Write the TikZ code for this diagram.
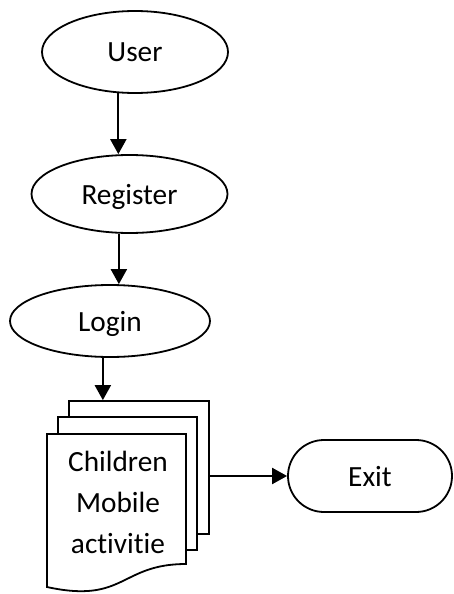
\documentclass[tikz,border=0pt]{standalone}
\usepackage{fontspec}
\setmainfont{Carlito}[Ligatures=CommonOff]
\usetikzlibrary{arrows.meta,shapes.geometric}

\tikzset{
  outline/.style={draw, line width=1.8pt, fill=white},
  terminal/.style={outline, ellipse, inner sep=0pt},
  flowarrow/.style={line width=2.2pt, -{Triangle[length=15pt,width=16pt]}},
  pagebox/.style={outline, rectangle, inner sep=0pt},
}

\begin{document}
\begin{tikzpicture}[x=1pt, y=-1pt, font=\fontsize{29.3}{41}\selectfont]
  \useasboundingbox (0,0) rectangle (453,594);

  % start / process terminals
  \node[terminal, minimum width=186pt, minimum height=82pt, text depth=0pt] (user) at (135,52) {User};
  \node[terminal, minimum width=196pt, minimum height=78pt, text depth=0pt] (reg) at (129.5,194) {Register};
  \node[terminal, minimum width=200pt, minimum height=72pt, text depth=0pt] (login) at (110,321) {Login};

  % stacked documents (back to front)
  \node[pagebox, minimum width=140pt, minimum height=133pt] (p3) at (139,467.5) {};
  \node[pagebox, minimum width=139pt, minimum height=133pt] (p2) at (127.5,483.5) {};
  \draw[outline] (47,434) -- (186,434) -- (186,564)
    .. controls (120,564) and (125,604) .. (47,587) -- cycle;
  \node[align=center, inner sep=0pt] (doc) at (118,502) {Children\\Mobile\\activitie};

  % exit terminal
  \node[outline, rectangle, rounded corners=36pt, minimum width=164pt, minimum height=72pt, text depth=0pt] (exit) at (370,476) {Exit};

  % connectors
  \draw[flowarrow] (user.248) -- (user.248 |- reg.north);
  \draw[flowarrow] (reg.255) -- (reg.255 |- login.north);
  \draw[flowarrow] (login.259) -- (login.259 |- p3.north);
  \draw[flowarrow] (exit.west -| p3.east) -- (exit.west);
\end{tikzpicture}
\end{document}
